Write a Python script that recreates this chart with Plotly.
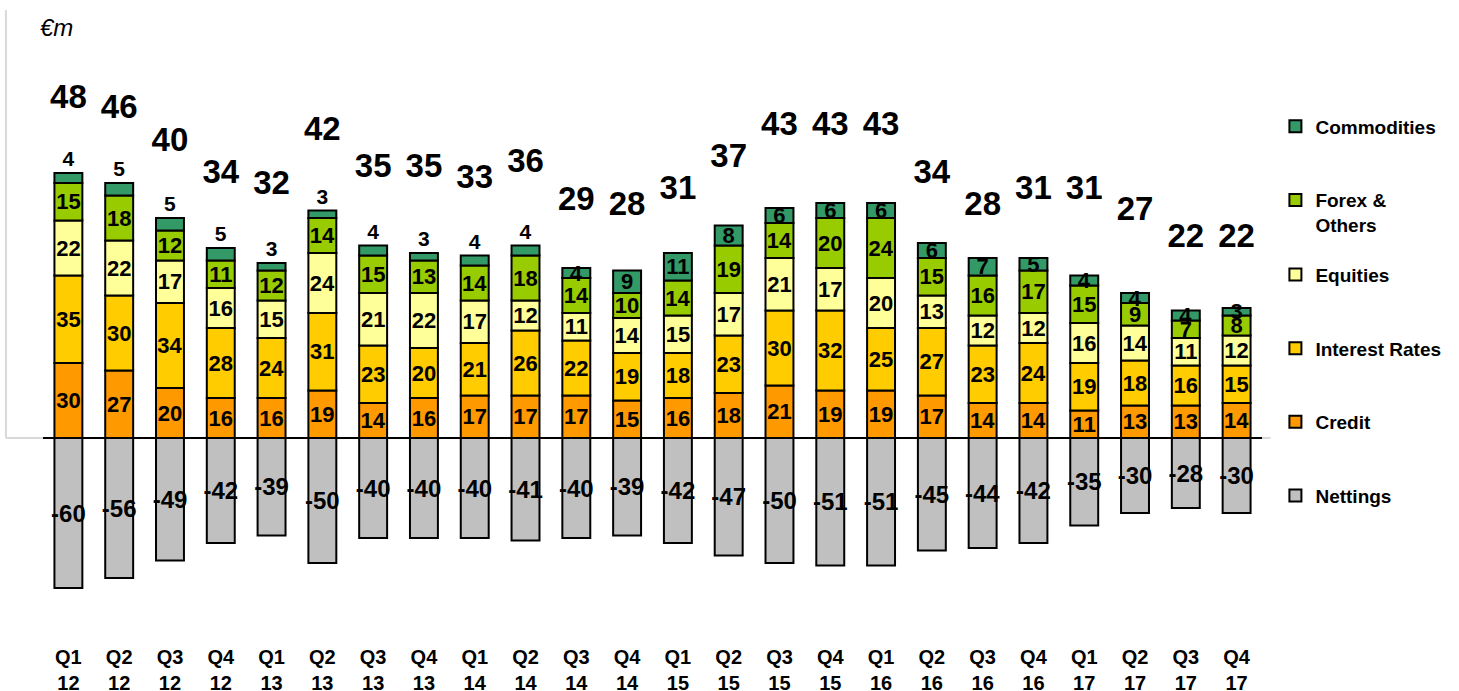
import plotly.graph_objects as go

# data
quarters = ["Q1 12", "Q2 12", "Q3 12", "Q4 12", "Q1 13", "Q2 13", "Q3 13", "Q4 13",
            "Q1 14", "Q2 14", "Q3 14", "Q4 14", "Q1 15", "Q2 15", "Q3 15", "Q4 15",
            "Q1 16", "Q2 16", "Q3 16", "Q4 16", "Q1 17", "Q2 17", "Q3 17", "Q4 17"]
credit = [30, 27, 20, 16, 16, 19, 14, 16, 17, 17, 17, 15, 16, 18, 21, 19, 19, 17, 14, 14, 11, 13, 13, 14]
interest_rates = [35, 30, 34, 28, 24, 31, 23, 20, 21, 26, 22, 19, 18, 23, 30, 32, 25, 27, 23, 24, 19, 18, 16, 15]
equities = [22, 22, 17, 16, 15, 24, 21, 22, 17, 12, 11, 14, 15, 17, 21, 17, 20, 13, 12, 12, 16, 14, 11, 12]
forex_others = [15, 18, 12, 11, 12, 14, 15, 13, 14, 18, 14, 10, 14, 19, 14, 20, 24, 15, 16, 17, 15, 9, 7, 8]
commodities = [4, 5, 5, 5, 3, 3, 4, 3, 4, 4, 4, 9, 11, 8, 6, 6, 6, 6, 7, 5, 4, 4, 4, 3]
nettings = [-60, -56, -49, -42, -39, -50, -40, -40, -40, -41, -40, -39, -42, -47, -50, -51, -51,
            -45, -44, -42, -35, -30, -28, -30]
totals = [48, 46, 40, 34, 32, 42, 35, 35, 33, 36, 29, 28, 31, 37, 43, 43, 43, 34, 28, 31, 31, 27, 22, 22]

cats = [q.replace(" ", "<br>") for q in quarters]

# commodities label sits above the bar for the first quarters
commod_pos = ["outside"] * 10 + ["inside"] * 14

FONT = "Liberation Sans, Arial, sans-serif"
NARROW = "Liberation Sans Narrow, Arial Narrow, Liberation Sans, sans-serif"

# name, values, colour, legend rank, legend box
series = [
    ("Nettings", nettings, "#C0C0C0", 6, "legend2"),
    ("Credit", credit, "#FF9900", 5, "legend2"),
    ("Interest Rates", interest_rates, "#FFCC00", 4, "legend2"),
    ("Equities", equities, "#FFFF99", 3, "legend2"),
    ("Forex &<br>Others", forex_others, "#99CC00", 2, "legend"),
    ("Commodities", commodities, "#339966", 1, "legend"),
]

fig = go.Figure()
for name, vals, color, rank, leg in series:
    if name == "Nettings":
        tfont = dict(family=NARROW, size=24, color="black", weight="bold")
    else:
        tfont = dict(family=FONT, size=22, color="black", weight="bold")
    fig.add_trace(go.Bar(
        x=cats, y=vals, name=name, legendgroup=name, legendrank=rank, legend=leg,
        marker=dict(color=color, line=dict(color="black", width=2)),
        text=[str(v) for v in vals],
        textposition=commod_pos if name == "Commodities" else "inside",
        insidetextanchor="middle", textangle=0, constraintext="none",
        textfont=tfont, outsidetextfont=dict(family=FONT, size=21, color="black", weight="bold"),
        cliponaxis=False,
    ))

# totals on a secondary axis
fig.add_trace(go.Scatter(
    x=cats, y=totals, yaxis="y2", mode="text", text=[str(t) for t in totals],
    textposition="middle center",
    textfont=dict(family=FONT, size=33, color="black", weight="bold"),
    showlegend=False, cliponaxis=False,
))

leg_style = dict(xanchor="left", yanchor="top", traceorder="grouped", tracegroupgap=46,
                 valign="top", bgcolor="rgba(0,0,0,0)",
                 font=dict(family=FONT, size=19, color="black", weight="bold"))

fig.update_layout(
    width=1459, height=691,
    margin=dict(l=43, r=197, t=10, b=48, autoexpand=False),
    barmode="relative", bargap=0.45,
    plot_bgcolor="white", paper_bgcolor="white",
    font=dict(family=FONT, color="black"),
    xaxis=dict(range=[-0.5, len(cats) - 0.5], showgrid=False, ticks="", showline=False,
               tickfont=dict(family=NARROW, size=20, color="black", weight="bold")),
    yaxis=dict(range=[-82, 171.2], showgrid=False, showticklabels=False,
               zeroline=True, zerolinecolor="black", zerolinewidth=1.5),
    yaxis2=dict(range=[-53.24, 64.66], overlaying="y", visible=False),
    legend=dict(x=1.011, y=0.846, **leg_style),
    legend2=dict(x=1.011, y=0.612, **leg_style),
    annotations=[dict(text="<i>€m</i>", xref="paper", yref="paper", x=-0.004, y=0.972,
                      xanchor="left", yanchor="middle", showarrow=False,
                      font=dict(family=FONT, size=24, color="black"))],
    shapes=[
        dict(type="line", xref="paper", yref="y", x0=-0.0304, x1=-0.0304, y0=0, y1=175,
             line=dict(color="#D9D9D9", width=2)),
        dict(type="line", xref="paper", yref="y", x0=-0.0304, x1=0, y0=0, y1=0,
             line=dict(color="#D9D9D9", width=2)),
        dict(type="line", xref="paper", yref="y", x0=1, x1=1.007, y0=0, y1=0,
             line=dict(color="#D9D9D9", width=2)),
    ],
)

fig.write_html("out.html", config={"displayModeBar": False},
               post_script="document.body.style.margin='0';")
